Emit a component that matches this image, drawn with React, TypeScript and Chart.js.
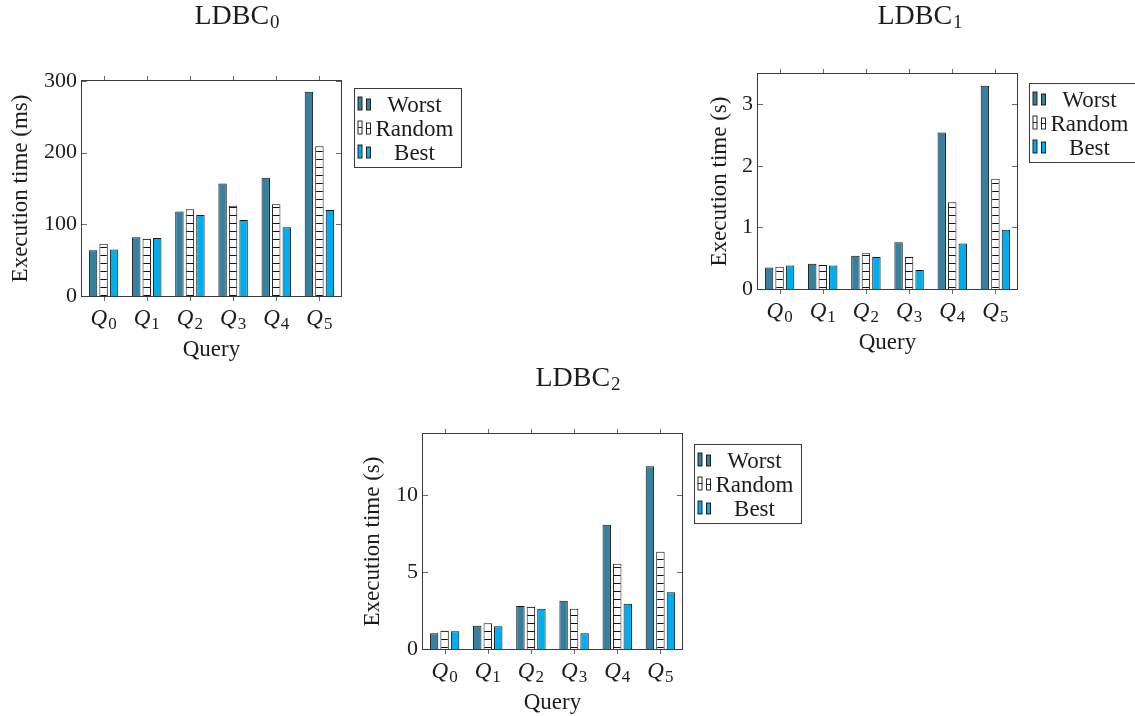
import React, { useEffect, useRef } from "react";
import { Chart, registerables } from "chart.js";

Chart.register(...registerables);

// ---------- data ----------
const categories = ["Q0", "Q1", "Q2", "Q3", "Q4", "Q5"];
const seriesNames = ["Worst", "Random", "Best"];

const ldbc0Worst = [64, 82, 118, 157, 165, 285];
const ldbc0Random = [73, 80, 121, 126, 128, 209];
const ldbc0Best = [65, 81, 113, 106, 96, 120];
const ldbc0Ticks = [0, 100, 200, 300];

const ldbc1Worst = [0.35, 0.41, 0.54, 0.76, 2.54, 3.3];
const ldbc1Random = [0.36, 0.39, 0.58, 0.52, 1.41, 1.79];
const ldbc1Best = [0.38, 0.38, 0.52, 0.31, 0.74, 0.96];
const ldbc1Ticks = [0, 1, 2, 3];

const ldbc2Worst = [1.02, 1.52, 2.8, 3.15, 8.09, 11.9];
const ldbc2Random = [1.19, 1.67, 2.75, 2.62, 5.55, 6.33];
const ldbc2Best = [1.15, 1.48, 2.62, 1.02, 2.95, 3.69];
const ldbc2Ticks = [0, 5, 10];

// ---------- style ----------
const FONT = "'Liberation Serif', 'DejaVu Serif', serif";
const WORST_COLOR = "#37809f";
const BEST_COLOR = "#00aeef";
const TEXT_COLOR = "#1c1c1c";

type Panel = {
  title: string;
  sub: string;
  yLabel: string;
  worst: number[];
  random: number[];
  best: number[];
  yTicks: number[];
  yMax: number;
  canvas: { left: number; top: number; width: number; height: number };
  pad: { left: number; top: number; right: number; bottom: number };
  yAxisWidth: number;
  legend: { left: number; top: number };
  titleX: number;
  titleBaseline: number;
};

const panels: Panel[] = [
  {
    title: "LDBC",
    sub: "0",
    yLabel: "Execution time (ms)",
    worst: ldbc0Worst,
    random: ldbc0Random,
    best: ldbc0Best,
    yTicks: ldbc0Ticks,
    yMax: 300,
    canvas: { left: 0, top: 0, width: 475, height: 370 },
    pad: { left: 7, top: 81, right: 134, bottom: 10 },
    yAxisWidth: 75,
    legend: { left: 354, top: 88 },
    titleX: 237,
    titleBaseline: 24,
  },
  {
    title: "LDBC",
    sub: "1",
    yLabel: "Execution time (s)",
    worst: ldbc1Worst,
    random: ldbc1Random,
    best: ldbc1Best,
    yTicks: ldbc1Ticks,
    yMax: 3.49,
    canvas: { left: 700, top: 0, width: 435, height: 365 },
    pad: { left: 6, top: 74, right: 118, bottom: 12 },
    yAxisWidth: 52,
    legend: { left: 329, top: 83 },
    titleX: 220,
    titleBaseline: 24,
  },
  {
    title: "LDBC",
    sub: "2",
    yLabel: "Execution time (s)",
    worst: ldbc2Worst,
    random: ldbc2Random,
    best: ldbc2Best,
    yTicks: ldbc2Ticks,
    yMax: 14,
    canvas: { left: 350, top: 360, width: 460, height: 356 },
    pad: { left: 9, top: 74, right: 128, bottom: 3 },
    yAxisWidth: 64,
    legend: { left: 344, top: 84 },
    titleX: 228,
    titleBaseline: 26,
  },
];

function makeHatch(): CanvasPattern | string {
  const c = document.createElement("canvas");
  c.width = 8;
  c.height = 8;
  const g = c.getContext("2d");
  if (!g) return "#ffffff";
  g.fillStyle = "#ffffff";
  g.fillRect(0, 0, 8, 8);
  g.fillStyle = "#111111";
  g.fillRect(0, 7, 8, 1);
  const pat = g.createPattern(c, "repeat");
  return pat || "#ffffff";
}

function decorPlugin(p: Panel) {
  return {
    id: "decor",
    afterDraw(chart: any) {
      const ctx: CanvasRenderingContext2D = chart.ctx;
      const a = chart.chartArea;
      const xs = chart.scales.x;
      const ys = chart.scales.y;
      ctx.save();

      // tick marks
      ctx.strokeStyle = "#6a6a6a";
      ctx.lineWidth = 1;
      ctx.beginPath();
      categories.forEach((_, i) => {
        const px = Math.round(xs.getPixelForValue(i)) + 0.5;
        ctx.moveTo(px, a.top);
        ctx.lineTo(px, a.top - 5);
        ctx.moveTo(px, a.bottom);
        ctx.lineTo(px, a.bottom + 5);
      });
      p.yTicks.forEach((v) => {
        if (v === 0) return;
        const py = Math.round(ys.getPixelForValue(v)) + 0.5;
        ctx.moveTo(a.left, py);
        ctx.lineTo(a.left + 5, py);
        ctx.moveTo(a.right, py);
        ctx.lineTo(a.right - 5, py);
      });
      ctx.stroke();

      // frame
      ctx.strokeStyle = "#3c3c3c";
      ctx.lineWidth = 1;
      const l = Math.round(a.left) - 0.5;
      const t = Math.round(a.top) - 0.5;
      const r = Math.round(a.right) + 0.5;
      const b = Math.round(a.bottom) + 0.5;
      ctx.strokeRect(l, t, r - l, b - t);

      // x tick labels  (italic Q with upright subscript)
      ctx.fillStyle = TEXT_COLOR;
      ctx.textBaseline = "alphabetic";
      ctx.textAlign = "left";
      categories.forEach((lab, i) => {
        const cx = xs.getPixelForValue(i);
        const main = lab.slice(0, 1);
        const sub = lab.slice(1);
        ctx.font = `italic 23px ${FONT}`;
        const w1 = ctx.measureText(main).width;
        ctx.font = `17px ${FONT}`;
        const w2 = ctx.measureText(sub).width;
        const x0 = cx - (w1 + 1 + w2) / 2;
        ctx.font = `italic 23px ${FONT}`;
        ctx.fillText(main, x0, a.bottom + 29);
        ctx.font = `17px ${FONT}`;
        ctx.fillText(sub, x0 + w1 + 1, a.bottom + 33);
      });

      // chart title
      ctx.font = `28px ${FONT}`;
      const tw1 = ctx.measureText(p.title).width;
      ctx.font = `19px ${FONT}`;
      const tw2 = ctx.measureText(p.sub).width;
      const tx0 = p.titleX - (tw1 + tw2 + 1) / 2;
      ctx.font = `28px ${FONT}`;
      ctx.fillText(p.title, tx0, p.titleBaseline);
      ctx.font = `19px ${FONT}`;
      ctx.fillText(p.sub, tx0 + tw1 + 1, p.titleBaseline + 4);

      // legend
      const L = p.legend.left;
      const T = p.legend.top;
      const W = 107;
      const H = 79;
      ctx.fillStyle = "#ffffff";
      ctx.fillRect(L, T, W, H);
      ctx.strokeStyle = "#3c3c3c";
      ctx.lineWidth = 1;
      ctx.strokeRect(L + 0.5, T + 0.5, W, H);
      const fills = [WORST_COLOR, "#ffffff", BEST_COLOR];
      seriesNames.forEach((name, k) => {
        const cy = T + 16 + k * 24;
        const bars = [
          { x: L + 4, y: cy - 7, w: 4, h: 13 },
          { x: L + 12.5, y: cy - 5, w: 4, h: 11 },
        ];
        bars.forEach((bb) => {
          ctx.fillStyle = fills[k];
          ctx.fillRect(bb.x, bb.y, bb.w, bb.h);
          ctx.strokeStyle = "#111111";
          ctx.lineWidth = 0.9;
          ctx.strokeRect(bb.x, bb.y, bb.w, bb.h);
          if (k === 1) {
            ctx.beginPath();
            ctx.moveTo(bb.x, bb.y + bb.h / 2);
            ctx.lineTo(bb.x + bb.w, bb.y + bb.h / 2);
            ctx.stroke();
          }
        });
        ctx.fillStyle = TEXT_COLOR;
        ctx.font = `23px ${FONT}`;
        ctx.textAlign = "center";
        ctx.fillText(name, L + 60.5, cy + 7.5);
        ctx.textAlign = "left";
      });

      ctx.restore();
    },
  };
}

function PanelChart({ p }: { p: Panel }) {
  const ref = useRef<HTMLCanvasElement | null>(null);
  useEffect(() => {
    if (!ref.current) return;
    const hatch = makeHatch();
    const chart = new Chart(ref.current, {
      type: "bar",
      data: {
        labels: categories,
        datasets: [
          {
            label: seriesNames[0],
            data: p.worst,
            backgroundColor: WORST_COLOR,
            borderColor: "#111111",
            borderWidth: 1,
          },
          {
            label: seriesNames[1],
            data: p.random,
            backgroundColor: hatch as any,
            borderColor: "#111111",
            borderWidth: 1,
          },
          {
            label: seriesNames[2],
            data: p.best,
            backgroundColor: BEST_COLOR,
            borderColor: "#111111",
            borderWidth: 1,
          },
        ],
      },
      options: {
        responsive: false,
        animation: false,
        devicePixelRatio: 1,
        categoryPercentage: 0.73,
        barPercentage: 0.8,
        layout: { padding: p.pad },
        plugins: {
          legend: { display: false },
          tooltip: { enabled: false },
          title: { display: false },
        },
        scales: {
          x: {
            type: "category",
            offset: true,
            grid: { display: false },
            border: { display: false },
            ticks: { display: false },
            title: {
              display: true,
              text: "Query",
              color: TEXT_COLOR,
              font: { family: FONT, size: 23, lineHeight: 1.2 },
              padding: { top: 0, bottom: -4 },
            },
            afterFit: (scale: any) => {
              scale.height = 64;
            },
          },
          y: {
            type: "linear",
            min: 0,
            max: p.yMax,
            grid: { display: false, drawTicks: false },
            border: { display: false },
            afterBuildTicks: (scale: any) => {
              scale.ticks = p.yTicks.map((v) => ({ value: v }));
            },
            ticks: {
              color: TEXT_COLOR,
              font: { family: FONT, size: 22 },
              padding: 5,
              callback: (v: any) => String(v),
            },
            title: {
              display: true,
              text: p.yLabel,
              color: TEXT_COLOR,
              font: { family: FONT, size: 23, lineHeight: 1.2 },
              padding: 0,
            },
            afterFit: (scale: any) => {
              scale.width = p.yAxisWidth;
            },
          },
        },
      } as any,
      plugins: [decorPlugin(p)],
    });
    return () => chart.destroy();
  }, [p]);
  return (
    <canvas
      ref={ref}
      width={p.canvas.width}
      height={p.canvas.height}
      style={{
        position: "absolute",
        left: p.canvas.left,
        top: p.canvas.top,
        width: p.canvas.width,
        height: p.canvas.height,
      }}
    />
  );
}

export default function App() {
  return (
    <div
      style={{
        position: "absolute",
        left: 0,
        top: 0,
        width: 1135,
        height: 716,
        background: "#ffffff",
        overflow: "hidden",
      }}
    >
      {panels.map((p, i) => (
        <PanelChart key={i} p={p} />
      ))}
    </div>
  );
}
